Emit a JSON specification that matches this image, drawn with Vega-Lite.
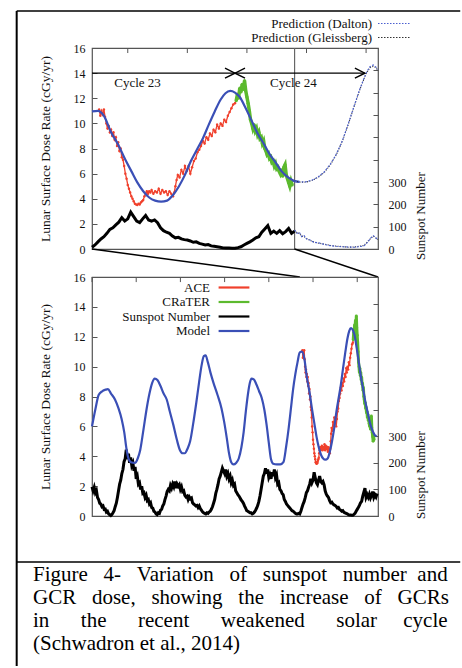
{
"$schema":"https://vega.github.io/schema/vega-lite/v6.json",
"padding":{"left":15,"top":9,"right":0,"bottom":0},
"background":"white",
"config":{
 "font":"Liberation Serif",
 "view":{"stroke":"#555","strokeWidth":1.2},
 "axis":{"grid":false,"domain":false,"labelFont":"Liberation Serif","labelFontSize":12,"labelColor":"#111","labelFlush":false,"labelOverlap":false,"tickColor":"#555","tickSize":-5,"labelPadding":12,"titleFont":"Liberation Serif","titleFontSize":13.5,"titleFontWeight":"normal","titleColor":"#111"},
 "legend":{"labelFont":"Liberation Serif","labelFontSize":13,"labelColor":"#111"}
},
"datasets":{
"model":[{"t":1950.0,"d":6.0},{"t":1950.8,"d":7.2},{"t":1951.5,"d":8.1},{"t":1952.3,"d":8.35},{"t":1953.0,"d":8.45},{"t":1953.6,"d":8.5},{"t":1954.3,"d":8.2},{"t":1955.2,"d":7.8},{"t":1956.0,"d":7.2},{"t":1956.7,"d":6.5},{"t":1957.3,"d":5.6},{"t":1957.8,"d":4.5},{"t":1958.3,"d":3.8},{"t":1958.8,"d":3.6},{"t":1959.7,"d":3.55},{"t":1960.4,"d":3.9},{"t":1960.9,"d":4.4},{"t":1961.6,"d":5.7},{"t":1962.4,"d":7.25},{"t":1963.0,"d":8.2},{"t":1963.6,"d":8.9},{"t":1964.2,"d":9.2},{"t":1964.8,"d":9.1},{"t":1965.5,"d":8.7},{"t":1966.2,"d":8.2},{"t":1966.9,"d":7.8},{"t":1967.6,"d":7.0},{"t":1968.4,"d":6.1},{"t":1969.2,"d":5.1},{"t":1969.9,"d":4.4},{"t":1970.5,"d":4.2},{"t":1971.0,"d":4.2},{"t":1971.6,"d":4.5},{"t":1972.2,"d":5.0},{"t":1972.9,"d":6.2},{"t":1973.6,"d":7.6},{"t":1974.2,"d":8.9},{"t":1974.8,"d":10.1},{"t":1975.3,"d":10.7},{"t":1975.7,"d":10.75},{"t":1976.2,"d":10.3},{"t":1976.8,"d":9.6},{"t":1977.5,"d":8.9},{"t":1978.4,"d":8.1},{"t":1979.3,"d":7.2},{"t":1979.9,"d":6.3},{"t":1980.5,"d":5.2},{"t":1981.0,"d":4.2},{"t":1981.5,"d":3.6},{"t":1982.0,"d":3.45},{"t":1982.6,"d":3.55},{"t":1983.2,"d":3.85},{"t":1983.8,"d":4.6},{"t":1984.3,"d":5.6},{"t":1984.8,"d":7.0},{"t":1985.3,"d":8.2},{"t":1985.7,"d":8.9},{"t":1986.1,"d":9.2},{"t":1986.6,"d":9.15},{"t":1987.2,"d":8.8},{"t":1987.8,"d":8.35},{"t":1988.4,"d":7.9},{"t":1989.0,"d":7.1},{"t":1989.5,"d":6.1},{"t":1990.0,"d":4.9},{"t":1990.5,"d":3.8},{"t":1991.0,"d":3.5},{"t":1991.8,"d":3.45},{"t":1992.6,"d":3.45},{"t":1993.3,"d":3.6},{"t":1993.9,"d":4.6},{"t":1994.5,"d":5.9},{"t":1995.0,"d":7.2},{"t":1995.5,"d":8.5},{"t":1996.0,"d":9.5},{"t":1996.5,"d":10.3},{"t":1997.0,"d":10.95},{"t":1997.5,"d":11.0},{"t":1998.0,"d":10.6},{"t":1998.6,"d":9.3},{"t":1999.2,"d":8.3},{"t":1999.8,"d":7.1},{"t":2000.3,"d":6.2},{"t":2000.8,"d":5.3},{"t":2001.3,"d":4.6},{"t":2001.8,"d":4.1},{"t":2002.3,"d":3.85},{"t":2002.8,"d":3.77},{"t":2003.3,"d":3.85},{"t":2003.8,"d":4.3},{"t":2004.3,"d":5.0},{"t":2004.8,"d":5.9},{"t":2005.3,"d":7.0},{"t":2005.8,"d":7.9},{"t":2006.3,"d":8.8},{"t":2006.8,"d":9.9},{"t":2007.3,"d":10.95},{"t":2007.8,"d":11.9},{"t":2008.2,"d":12.4},{"t":2008.6,"d":12.58},{"t":2009.0,"d":12.45},{"t":2009.4,"d":12.1},{"t":2009.9,"d":11.2},{"t":2010.4,"d":10.2},{"t":2010.9,"d":9.2},{"t":2011.4,"d":8.4},{"t":2011.9,"d":7.55},{"t":2012.4,"d":6.9},{"t":2012.9,"d":6.2},{"t":2013.4,"d":5.75},{"t":2013.8,"d":5.5},{"t":2014.0,"d":5.4},{"t":2014.4,"d":5.35}],
"ace":[{"t":1997.6,"d":11.1},{"t":1997.7,"d":10.6},{"t":1997.8,"d":11.0},{"t":1997.9,"d":10.7},{"t":1998.0,"d":11.1},{"t":1998.1,"d":10.5},{"t":1998.2,"d":10.0},{"t":1998.3,"d":9.6},{"t":1998.4,"d":9.8},{"t":1998.5,"d":9.3},{"t":1998.6,"d":9.5},{"t":1998.7,"d":9.0},{"t":1998.8,"d":9.3},{"t":1998.9,"d":8.7},{"t":1999.0,"d":8.9},{"t":1999.1,"d":8.2},{"t":1999.2,"d":8.5},{"t":1999.3,"d":7.8},{"t":1999.4,"d":8.0},{"t":1999.5,"d":7.3},{"t":1999.6,"d":7.1},{"t":1999.7,"d":6.6},{"t":1999.8,"d":6.0},{"t":1999.9,"d":5.6},{"t":2000.0,"d":5.1},{"t":2000.1,"d":4.8},{"t":2000.2,"d":4.5},{"t":2000.3,"d":4.2},{"t":2000.4,"d":4.0},{"t":2000.5,"d":3.8},{"t":2000.6,"d":3.6},{"t":2000.7,"d":3.55},{"t":2000.8,"d":3.5},{"t":2000.9,"d":3.6},{"t":2001.0,"d":3.55},{"t":2001.1,"d":3.7},{"t":2001.2,"d":3.8},{"t":2001.3,"d":3.9},{"t":2001.4,"d":4.2},{"t":2001.5,"d":4.4},{"t":2001.6,"d":4.6},{"t":2001.7,"d":4.4},{"t":2001.8,"d":4.6},{"t":2001.9,"d":4.5},{"t":2002.0,"d":4.7},{"t":2002.15,"d":4.4},{"t":2002.3,"d":4.6},{"t":2002.45,"d":4.5},{"t":2002.6,"d":4.8},{"t":2002.75,"d":4.4},{"t":2002.9,"d":4.7},{"t":2003.05,"d":4.5},{"t":2003.2,"d":4.6},{"t":2003.35,"d":4.3},{"t":2003.5,"d":4.6},{"t":2003.65,"d":4.4},{"t":2003.8,"d":4.2},{"t":2003.9,"d":4.5},{"t":2004.0,"d":5.0},{"t":2004.1,"d":5.5},{"t":2004.2,"d":5.9},{"t":2004.35,"d":5.7},{"t":2004.5,"d":6.3},{"t":2004.65,"d":6.0},{"t":2004.8,"d":6.6},{"t":2004.95,"d":6.2},{"t":2005.1,"d":6.6},{"t":2005.25,"d":6.0},{"t":2005.4,"d":6.5},{"t":2005.55,"d":7.0},{"t":2005.7,"d":7.2},{"t":2005.85,"d":7.7},{"t":2006.0,"d":7.9},{"t":2006.15,"d":8.2},{"t":2006.3,"d":8.6},{"t":2006.45,"d":8.4},{"t":2006.6,"d":8.9},{"t":2006.75,"d":8.7},{"t":2006.9,"d":9.2},{"t":2007.05,"d":9.0},{"t":2007.2,"d":9.5},{"t":2007.35,"d":9.3},{"t":2007.5,"d":9.9},{"t":2007.65,"d":9.6},{"t":2007.8,"d":10.0},{"t":2007.95,"d":9.8},{"t":2008.1,"d":10.3},{"t":2008.25,"d":10.1},{"t":2008.4,"d":10.6},{"t":2008.55,"d":10.9},{"t":2008.7,"d":11.2},{"t":2008.85,"d":11.5},{"t":2009.0,"d":11.6},{"t":2009.15,"d":12.0},{"t":2009.3,"d":12.4}],
"crater":[{"t":2009.1,"d":11.8},{"t":2009.2,"d":12.3},{"t":2009.3,"d":12.0},{"t":2009.4,"d":12.8},{"t":2009.5,"d":12.5},{"t":2009.6,"d":13.1},{"t":2009.7,"d":12.7},{"t":2009.8,"d":13.4},{"t":2009.9,"d":12.6},{"t":2010.0,"d":12.1},{"t":2010.1,"d":11.6},{"t":2010.2,"d":11.0},{"t":2010.3,"d":10.3},{"t":2010.4,"d":10.0},{"t":2010.5,"d":9.6},{"t":2010.6,"d":9.9},{"t":2010.7,"d":9.4},{"t":2010.8,"d":9.6},{"t":2010.9,"d":9.1},{"t":2011.0,"d":9.3},{"t":2011.1,"d":8.8},{"t":2011.2,"d":8.9},{"t":2011.3,"d":8.4},{"t":2011.4,"d":8.6},{"t":2011.5,"d":8.0},{"t":2011.6,"d":7.8},{"t":2011.7,"d":7.5},{"t":2011.8,"d":7.6},{"t":2011.9,"d":7.2},{"t":2012.0,"d":7.3},{"t":2012.1,"d":6.9},{"t":2012.2,"d":7.0},{"t":2012.3,"d":6.6},{"t":2012.4,"d":6.8},{"t":2012.5,"d":6.4},{"t":2012.6,"d":6.5},{"t":2012.7,"d":6.2},{"t":2012.8,"d":6.0},{"t":2012.9,"d":6.3},{"t":2013.0,"d":5.8},{"t":2013.1,"d":6.5},{"t":2013.2,"d":6.7},{"t":2013.3,"d":5.9},{"t":2013.4,"d":5.6},{"t":2013.5,"d":5.3},{"t":2013.6,"d":5.0},{"t":2013.7,"d":5.4},{"t":2013.8,"d":5.1}],
"ssn":[{"t":1950.0,"s":110},{"t":1950.25,"s":95},{"t":1950.5,"s":108},{"t":1950.75,"s":88},{"t":1951.0,"s":96},{"t":1951.25,"s":70},{"t":1951.5,"s":62},{"t":1951.75,"s":48},{"t":1952.0,"s":45},{"t":1952.25,"s":35},{"t":1952.5,"s":38},{"t":1952.75,"s":25},{"t":1953.0,"s":26},{"t":1953.25,"s":15},{"t":1953.5,"s":18},{"t":1953.75,"s":8},{"t":1954.0,"s":5},{"t":1954.25,"s":2},{"t":1954.5,"s":6},{"t":1954.75,"s":12},{"t":1955.0,"s":20},{"t":1955.25,"s":35},{"t":1955.5,"s":48},{"t":1955.75,"s":70},{"t":1956.0,"s":95},{"t":1956.25,"s":120},{"t":1956.5,"s":135},{"t":1956.75,"s":160},{"t":1957.0,"s":175},{"t":1957.25,"s":205},{"t":1957.5,"s":215},{"t":1957.75,"s":250},{"t":1958.0,"s":215},{"t":1958.25,"s":235},{"t":1958.5,"s":200},{"t":1958.75,"s":220},{"t":1959.0,"s":190},{"t":1959.25,"s":200},{"t":1959.5,"s":170},{"t":1959.75,"s":185},{"t":1960.0,"s":140},{"t":1960.25,"s":150},{"t":1960.5,"s":120},{"t":1960.75,"s":125},{"t":1961.0,"s":100},{"t":1961.25,"s":112},{"t":1961.5,"s":85},{"t":1961.75,"s":88},{"t":1962.0,"s":70},{"t":1962.25,"s":78},{"t":1962.5,"s":58},{"t":1962.75,"s":62},{"t":1963.0,"s":45},{"t":1963.25,"s":50},{"t":1963.5,"s":32},{"t":1963.75,"s":30},{"t":1964.0,"s":18},{"t":1964.25,"s":15},{"t":1964.5,"s":8},{"t":1964.75,"s":5},{"t":1965.0,"s":12},{"t":1965.25,"s":10},{"t":1965.5,"s":22},{"t":1965.75,"s":25},{"t":1966.0,"s":38},{"t":1966.25,"s":45},{"t":1966.5,"s":62},{"t":1966.75,"s":75},{"t":1967.0,"s":92},{"t":1967.25,"s":100},{"t":1967.5,"s":95},{"t":1967.75,"s":115},{"t":1968.0,"s":105},{"t":1968.25,"s":120},{"t":1968.5,"s":110},{"t":1968.75,"s":130},{"t":1969.0,"s":105},{"t":1969.25,"s":120},{"t":1969.5,"s":112},{"t":1969.75,"s":118},{"t":1970.0,"s":100},{"t":1970.25,"s":110},{"t":1970.5,"s":92},{"t":1970.75,"s":95},{"t":1971.0,"s":78},{"t":1971.25,"s":72},{"t":1971.5,"s":75},{"t":1971.75,"s":62},{"t":1972.0,"s":72},{"t":1972.25,"s":65},{"t":1972.5,"s":68},{"t":1972.75,"s":50},{"t":1973.0,"s":45},{"t":1973.25,"s":42},{"t":1973.5,"s":38},{"t":1973.75,"s":40},{"t":1974.0,"s":32},{"t":1974.25,"s":38},{"t":1974.5,"s":28},{"t":1974.75,"s":22},{"t":1975.0,"s":16},{"t":1975.25,"s":12},{"t":1975.5,"s":10},{"t":1975.75,"s":8},{"t":1976.0,"s":12},{"t":1976.25,"s":10},{"t":1976.5,"s":15},{"t":1976.75,"s":18},{"t":1977.0,"s":25},{"t":1977.25,"s":35},{"t":1977.5,"s":48},{"t":1977.75,"s":62},{"t":1978.0,"s":85},{"t":1978.25,"s":100},{"t":1978.5,"s":118},{"t":1978.75,"s":140},{"t":1979.0,"s":150},{"t":1979.25,"s":165},{"t":1979.5,"s":180},{"t":1979.75,"s":170},{"t":1980.0,"s":160},{"t":1980.25,"s":175},{"t":1980.5,"s":150},{"t":1980.75,"s":160},{"t":1981.0,"s":140},{"t":1981.25,"s":150},{"t":1981.5,"s":125},{"t":1981.75,"s":135},{"t":1982.0,"s":115},{"t":1982.25,"s":120},{"t":1982.5,"s":95},{"t":1982.75,"s":88},{"t":1983.0,"s":80},{"t":1983.25,"s":75},{"t":1983.5,"s":68},{"t":1983.75,"s":60},{"t":1984.0,"s":55},{"t":1984.25,"s":48},{"t":1984.5,"s":38},{"t":1984.75,"s":30},{"t":1985.0,"s":20},{"t":1985.25,"s":18},{"t":1985.5,"s":15},{"t":1985.75,"s":12},{"t":1986.0,"s":12},{"t":1986.25,"s":8},{"t":1986.5,"s":10},{"t":1986.75,"s":15},{"t":1987.0,"s":22},{"t":1987.25,"s":30},{"t":1987.5,"s":40},{"t":1987.75,"s":55},{"t":1988.0,"s":75},{"t":1988.25,"s":100},{"t":1988.5,"s":125},{"t":1988.75,"s":150},{"t":1989.0,"s":160},{"t":1989.25,"s":180},{"t":1989.5,"s":160},{"t":1989.75,"s":175},{"t":1990.0,"s":145},{"t":1990.25,"s":155},{"t":1990.5,"s":140},{"t":1990.75,"s":165},{"t":1991.0,"s":150},{"t":1991.25,"s":175},{"t":1991.5,"s":145},{"t":1991.75,"s":155},{"t":1992.0,"s":120},{"t":1992.25,"s":125},{"t":1992.5,"s":100},{"t":1992.75,"s":95},{"t":1993.0,"s":85},{"t":1993.25,"s":80},{"t":1993.5,"s":62},{"t":1993.75,"s":55},{"t":1994.0,"s":45},{"t":1994.25,"s":40},{"t":1994.5,"s":35},{"t":1994.75,"s":30},{"t":1995.0,"s":25},{"t":1995.25,"s":20},{"t":1995.5,"s":18},{"t":1995.75,"s":14},{"t":1996.0,"s":10},{"t":1996.25,"s":8},{"t":1996.5,"s":8},{"t":1996.75,"s":10},{"t":1997.0,"s":8},{"t":1997.25,"s":18},{"t":1997.5,"s":32},{"t":1997.75,"s":45},{"t":1998.0,"s":55},{"t":1998.25,"s":70},{"t":1998.5,"s":88},{"t":1998.75,"s":95},{"t":1999.0,"s":108},{"t":1999.25,"s":120},{"t":1999.5,"s":140},{"t":1999.75,"s":125},{"t":2000.0,"s":135},{"t":2000.25,"s":165},{"t":2000.5,"s":145},{"t":2000.75,"s":125},{"t":2001.0,"s":118},{"t":2001.25,"s":135},{"t":2001.5,"s":150},{"t":2001.75,"s":130},{"t":2002.0,"s":125},{"t":2002.25,"s":130},{"t":2002.5,"s":118},{"t":2002.75,"s":95},{"t":2003.0,"s":82},{"t":2003.25,"s":75},{"t":2003.5,"s":70},{"t":2003.75,"s":58},{"t":2004.0,"s":50},{"t":2004.25,"s":52},{"t":2004.5,"s":45},{"t":2004.75,"s":42},{"t":2005.0,"s":40},{"t":2005.25,"s":36},{"t":2005.5,"s":30},{"t":2005.75,"s":32},{"t":2006.0,"s":25},{"t":2006.25,"s":22},{"t":2006.5,"s":18},{"t":2006.75,"s":20},{"t":2007.0,"s":14},{"t":2007.25,"s":12},{"t":2007.5,"s":10},{"t":2007.75,"s":8},{"t":2008.0,"s":5},{"t":2008.25,"s":4},{"t":2008.5,"s":4},{"t":2008.75,"s":3},{"t":2009.0,"s":3},{"t":2009.25,"s":6},{"t":2009.5,"s":10},{"t":2009.75,"s":18},{"t":2010.0,"s":25},{"t":2010.25,"s":32},{"t":2010.5,"s":40},{"t":2010.75,"s":50},{"t":2011.0,"s":55},{"t":2011.25,"s":75},{"t":2011.5,"s":90},{"t":2011.75,"s":105},{"t":2012.0,"s":70},{"t":2012.25,"s":80},{"t":2012.5,"s":70},{"t":2012.75,"s":82},{"t":2013.0,"s":68},{"t":2013.25,"s":78},{"t":2013.5,"s":92},{"t":2013.75,"s":70},{"t":2014.0,"s":80},{"t":2014.25,"s":72},{"t":2014.5,"s":85}],
"predD":[{"t":2014.0,"d":5.4},{"t":2014.5,"d":5.33},{"t":2015.0,"d":5.35},{"t":2015.5,"d":5.5},{"t":2016.0,"d":5.75},{"t":2016.5,"d":6.15},{"t":2017.0,"d":6.75},{"t":2017.5,"d":7.55},{"t":2018.0,"d":8.6},{"t":2018.5,"d":9.95},{"t":2019.0,"d":11.4},{"t":2019.5,"d":12.8},{"t":2020.0,"d":14.0},{"t":2020.3,"d":14.5},{"t":2020.6,"d":14.65},{"t":2020.8,"d":14.5},{"t":2021.0,"d":14.3}],
"predG":[{"t":2014.0,"d":5.4},{"t":2014.5,"d":5.32},{"t":2015.0,"d":5.33},{"t":2015.5,"d":5.47},{"t":2016.0,"d":5.72},{"t":2016.5,"d":6.1},{"t":2017.0,"d":6.7},{"t":2017.5,"d":7.5},{"t":2018.0,"d":8.55},{"t":2018.5,"d":9.9},{"t":2019.0,"d":11.35},{"t":2019.5,"d":12.75},{"t":2020.0,"d":13.95},{"t":2020.3,"d":14.4},{"t":2020.6,"d":14.55},{"t":2020.8,"d":14.45},{"t":2021.0,"d":14.2}],
"predSD":[{"t":2014.0,"s":85},{"t":2014.2,"s":70},{"t":2014.4,"s":75},{"t":2014.6,"s":55},{"t":2014.8,"s":60},{"t":2015.0,"s":45},{"t":2015.3,"s":40},{"t":2015.6,"s":30},{"t":2016.0,"s":28},{"t":2016.5,"s":20},{"t":2017.0,"s":15},{"t":2017.5,"s":12},{"t":2018.0,"s":10},{"t":2018.5,"s":9},{"t":2019.0,"s":8},{"t":2019.4,"s":10},{"t":2019.8,"s":14},{"t":2020.0,"s":22},{"t":2020.2,"s":35},{"t":2020.4,"s":50},{"t":2020.6,"s":60},{"t":2020.8,"s":52},{"t":2021.0,"s":40}],
"predSG":[{"t":2014.0,"s":85},{"t":2014.2,"s":72},{"t":2014.4,"s":70},{"t":2014.6,"s":58},{"t":2014.8,"s":55},{"t":2015.0,"s":48},{"t":2015.3,"s":38},{"t":2015.6,"s":32},{"t":2016.0,"s":26},{"t":2016.5,"s":22},{"t":2017.0,"s":16},{"t":2017.5,"s":13},{"t":2018.0,"s":11},{"t":2018.5,"s":8},{"t":2019.0,"s":9},{"t":2019.4,"s":12},{"t":2019.8,"s":16},{"t":2020.0,"s":25},{"t":2020.2,"s":38},{"t":2020.4,"s":48},{"t":2020.6,"s":58},{"t":2020.8,"s":50},{"t":2021.0,"s":42}]
},
"vconcat":[
{
 "width":286,"height":201,
 "resolve":{"scale":{"y":"independent"}},
 "layer":[
  {"data":{"values":[{"a":1990.68,"b":18.95,"b2":-33.19}]},"mark":{"type":"rule","color":"black","strokeWidth":2},
   "encoding":{"x":{"field":"a","type":"quantitative","scale":{"domain":[1997,2021]},"axis":null},
    "y":{"field":"b","type":"quantitative","scale":{"domain":[0,16]},"axis":null},"y2":{"field":"b2"}}},
  {"data":{"values":[{"a":1990.68,"a2":2027.9,"b":18.95},{"a":1990.68,"a2":2027.9,"b":-24.92}]},"mark":{"type":"rule","color":"black","strokeWidth":1.5},
   "encoding":{"x":{"field":"a","type":"quantitative","scale":{"domain":[1997,2021]},"axis":null},"x2":{"field":"a2"},
    "y":{"field":"b","type":"quantitative","scale":{"domain":[0,16]},"axis":null}}},
  {"data":{"values":[{"a":2000,"b":16,"b2":15.6},{"a":2005,"b":16,"b2":15.6},{"a":2010,"b":16,"b2":15.6},{"a":2015,"b":16,"b2":15.6},{"a":2020,"b":16,"b2":15.6}]},"mark":{"type":"rule","color":"#555","strokeWidth":1},
   "encoding":{"x":{"field":"a","type":"quantitative","scale":{"domain":[1997,2021]},"axis":null},
    "y":{"field":"b","type":"quantitative","scale":{"domain":[0,16]},"axis":null},"y2":{"field":"b2"}}},
  {"data":{"values":[{"a":2014,"b":0,"b2":16}]},"mark":{"type":"rule","color":"#666","strokeWidth":1.2},
   "encoding":{"x":{"field":"a","type":"quantitative","scale":{"domain":[1997,2021]},"axis":null},
    "y":{"field":"b","type":"quantitative","scale":{"domain":[0,16]},"axis":null},"y2":{"field":"b2"}}},
  {"data":{"values":[{"a":1997,"b":0,"a2":2014.44,"b2":-2.23},{"a":2014,"b":0,"a2":2021,"b2":-2.23}]},
   "mark":{"type":"rule","color":"black","strokeWidth":1.5},
   "encoding":{"x":{"field":"a","type":"quantitative","scale":{"domain":[1997,2021]},"axis":null},"x2":{"field":"a2"},
    "y":{"field":"b","type":"quantitative","scale":{"domain":[0,16]},"axis":null},"y2":{"field":"b2"}}},
  {"data":{"name":"ace"},"mark":{"type":"line","color":"#f0402c","strokeWidth":1.3,"point":{"filled":true,"size":6,"color":"#f0402c"}},
   "encoding":{"x":{"field":"t","type":"quantitative","scale":{"domain":[1997,2021]},"axis":null},
    "y":{"field":"d","type":"quantitative","scale":{"domain":[0,16]},"axis":null}}},
  {"data":{"name":"crater"},"mark":{"type":"line","color":"#5cba2e","strokeWidth":3.5,"point":{"filled":true,"size":10,"color":"#5cba2e"}},
   "encoding":{"x":{"field":"t","type":"quantitative","scale":{"domain":[1997,2021]},"axis":null},
    "y":{"field":"d","type":"quantitative","scale":{"domain":[0,16]},"axis":null}}},
  {"data":{"name":"ssn"},"transform":[{"filter":"datum.t >= 1997 && datum.t <= 2014"}],
   "mark":{"type":"line","color":"black","strokeWidth":3},
   "encoding":{"x":{"field":"t","type":"quantitative","scale":{"domain":[1997,2021]},"axis":null},
    "y":{"field":"s","type":"quantitative","scale":{"domain":[0,900]},
     "axis":{"orient":"right","values":[0,100,200,300,400,500,600,700,800,900],"labelExpr":"datum.value <= 300 ? datum.label : ''","labelPadding":15,"title":"Sunspot Number","titleFontSize":13,"titleX":42,"titleY":167.5,"titleAngle":270,"titleAlign":"center","titleBaseline":"middle"}}}},
  {"data":{"name":"predSG"},"mark":{"type":"line","color":"#333","strokeWidth":1.1,"strokeDash":[1,1.5]},
   "encoding":{"x":{"field":"t","type":"quantitative","scale":{"domain":[1997,2021]},"axis":null},
    "y":{"field":"s","type":"quantitative","scale":{"domain":[0,900]},"axis":null}}},
  {"data":{"name":"predSD"},"mark":{"type":"line","color":"#4b5fd0","strokeWidth":1.1,"strokeDash":[2,1.5]},
   "encoding":{"x":{"field":"t","type":"quantitative","scale":{"domain":[1997,2021]},"axis":null},
    "y":{"field":"s","type":"quantitative","scale":{"domain":[0,900]},"axis":null}}},
  {"data":{"name":"model"},"transform":[{"filter":"datum.t >= 1997"}],
   "mark":{"type":"line","color":"#3a4fb6","strokeWidth":2.2,"interpolate":"monotone"},
   "encoding":{"x":{"field":"t","type":"quantitative","scale":{"domain":[1997,2021]},"axis":{"orient":"bottom","values":[2000,2005,2010,2015,2020],"format":"d","title":null}},
    "y":{"field":"d","type":"quantitative","scale":{"domain":[0,16]},
     "axis":{"orient":"left","values":[0,2,4,6,8,10,12,14,16],"title":"Lunar Surface Dose Rate (cGy/yr)","titleX":-47,"titleY":100.5,"titleAngle":270,"titleAlign":"center","titleBaseline":"middle"}}}},
  {"data":{"name":"predG"},"mark":{"type":"line","color":"#333","strokeWidth":1.1,"strokeDash":[1,1.5]},
   "encoding":{"x":{"field":"t","type":"quantitative","scale":{"domain":[1997,2021]},"axis":null},
    "y":{"field":"d","type":"quantitative","scale":{"domain":[0,16]},"axis":null}}},
  {"data":{"name":"predD"},"mark":{"type":"line","color":"#4b5fd0","strokeWidth":1.1,"strokeDash":[2,1.5]},
   "encoding":{"x":{"field":"t","type":"quantitative","scale":{"domain":[1997,2021]},"axis":null},
    "y":{"field":"d","type":"quantitative","scale":{"domain":[0,16]},"axis":null}}},
  {"data":{"values":[{"a":1997,"a2":2009.0,"b":14},{"a":2009.0,"a2":2019.9,"b":14}]},
   "mark":{"type":"rule","color":"black","strokeWidth":1.3},
   "encoding":{"x":{"field":"a","type":"quantitative","scale":{"domain":[1997,2021]},"axis":null},"x2":{"field":"a2"},
    "y":{"field":"b","type":"quantitative","scale":{"domain":[0,16]},"axis":null}}},
  {"data":{"values":[{"t":2009.0,"d":14,"dir":"r"},{"t":2019.9,"d":14,"dir":"r"},{"t":2009.0,"d":14,"dir":"l"}]},
   "mark":{"type":"point","filled":false,"color":"black","strokeWidth":1.4,"size":400,"opacity":1},
   "encoding":{"x":{"field":"t","type":"quantitative","scale":{"domain":[1997,2021]},"axis":null},
    "y":{"field":"d","type":"quantitative","scale":{"domain":[0,16]},"axis":null},
    "shape":{"field":"dir","type":"nominal","scale":{"domain":["r","l"],"range":["M-1,-0.5L0,0L-1,0.5","M1,-0.5L0,0L1,0.5"]},"legend":null}}},
  {"data":{"values":[{"t":2000.82,"d":13.24,"label":"Cycle 23"},{"t":2013.9,"d":13.24,"label":"Cycle 24"}]},
   "mark":{"type":"text","font":"Liberation Serif","fontSize":13,"color":"#111","align":"center","baseline":"middle"},
   "encoding":{"x":{"field":"t","type":"quantitative","scale":{"domain":[1997,2021]},"axis":null},
    "y":{"field":"d","type":"quantitative","scale":{"domain":[0,16]},"axis":null},"text":{"field":"label"}}},
  {"data":{"values":[{"k":"Prediction (Dalton)","t":2000,"d":5}]},"transform":[{"filter":"datum.t < 0"}],
   "mark":{"type":"line"},
   "encoding":{"x":{"field":"t","type":"quantitative","scale":{"domain":[1997,2021]},"axis":null},
    "y":{"field":"d","type":"quantitative","scale":{"domain":[0,16]},"axis":null},
    "color":{"field":"k","type":"nominal","scale":{"domain":["Prediction (Dalton)","Prediction (Gleissberg)"],"range":["#4b5fd0","#333"]},
    "legend":{"orient":"none","legendX":296,"legendY":-31,"title":null,"symbolType":"M-3,0H3","symbolSize":121,"symbolStrokeWidth":1.2,"symbolDash":[1.5,1.5],"labelAlign":"right","labelOffset":-29,"rowPadding":0,"padding":0}}}}
 ]
},
{
 "width":286,"height":239,
 "resolve":{"scale":{"y":"independent"}},
 "layer":[
  {"data":{"values":[{"a":1950,"b":16,"b2":15.66},{"a":1960,"b":16,"b2":15.66},{"a":1970,"b":16,"b2":15.66},{"a":1980,"b":16,"b2":15.66},{"a":1990,"b":16,"b2":15.66},{"a":2000,"b":16,"b2":15.66},{"a":2010,"b":16,"b2":15.66}]},"mark":{"type":"rule","color":"#555","strokeWidth":1},
   "encoding":{"x":{"field":"a","type":"quantitative","scale":{"domain":[1950,2014.7]},"axis":null},
    "y":{"field":"b","type":"quantitative","scale":{"domain":[0,16]},"axis":null},"y2":{"field":"b2"}}},
  {"data":{"name":"ace"},"mark":{"type":"line","color":"#f0402c","strokeWidth":1.3,"point":{"filled":true,"size":6,"color":"#f0402c"}},
   "encoding":{"x":{"field":"t","type":"quantitative","scale":{"domain":[1950,2014.7]},"axis":null},
    "y":{"field":"d","type":"quantitative","scale":{"domain":[0,16]},"axis":null}}},
  {"data":{"name":"crater"},"mark":{"type":"line","color":"#5cba2e","strokeWidth":3,"point":{"filled":true,"size":8,"color":"#5cba2e"}},
   "encoding":{"x":{"field":"t","type":"quantitative","scale":{"domain":[1950,2014.7]},"axis":null},
    "y":{"field":"d","type":"quantitative","scale":{"domain":[0,16]},"axis":null}}},
  {"data":{"name":"ssn"},"mark":{"type":"line","color":"black","strokeWidth":3},
   "encoding":{"x":{"field":"t","type":"quantitative","scale":{"domain":[1950,2014.7]},"axis":null},
    "y":{"field":"s","type":"quantitative","scale":{"domain":[0,900]},
     "axis":{"orient":"right","values":[0,100,200,300,400,500,600,700,800,900],"labelExpr":"datum.value <= 300 ? datum.label : ''","labelPadding":15,"title":"Sunspot Number","titleFontSize":13,"titleX":42,"titleY":197.5,"titleAngle":270,"titleAlign":"center","titleBaseline":"middle"}}}},
  {"data":{"name":"model"},"mark":{"type":"line","color":"#3a4fb6","strokeWidth":2.2,"interpolate":"monotone"},
   "encoding":{"x":{"field":"t","type":"quantitative","scale":{"domain":[1950,2014.7]},"axis":{"orient":"bottom","values":[1950,1960,1970,1980,1990,2000,2010],"format":"d","title":"Year","titleX":143,"titleY":33,"titleAlign":"center","titleBaseline":"middle"}},
    "y":{"field":"d","type":"quantitative","scale":{"domain":[0,16]},
     "axis":{"orient":"left","values":[0,2,4,6,8,10,12,14,16],"title":"Lunar Surface Dose Rate (cGy/yr)","titleX":-47,"titleY":119.5,"titleAngle":270,"titleAlign":"center","titleBaseline":"middle"}}}},
  {"data":{"values":[{"k":"ACE","t":2000,"d":5}]},"transform":[{"filter":"datum.t < 0"}],
   "mark":{"type":"line"},
   "encoding":{"x":{"field":"t","type":"quantitative","scale":{"domain":[1950,2014.7]},"axis":null},
    "y":{"field":"d","type":"quantitative","scale":{"domain":[0,16]},"axis":null},
    "color":{"field":"k","type":"nominal","scale":{"domain":["ACE","CRaTER","Sunspot Number","Model"],"range":["#f0402c","#5cba2e","black","#3a4fb6"]},
    "legend":{"orient":"none","legendX":135,"legendY":3.5,"title":null,"symbolType":"M-2.8,0H2.8","symbolSize":121,"symbolStrokeWidth":2.2,"labelAlign":"right","labelOffset":-31,"rowPadding":0.5,"padding":0}}}}
 ]
},
{
 "width":436,"height":120,"view":{"stroke":null},
 "data":{"values":[
  {"line":1,"text":"Figure\u00a0\u00a0\u00a04-\u00a0\u00a0\u00a0Variation\u00a0\u00a0\u00a0of\u00a0\u00a0\u00a0sunspot\u00a0\u00a0\u00a0number\u00a0\u00a0and"},
  {"line":2,"text":"GCR\u00a0\u00a0\u00a0dose,\u00a0\u00a0\u00a0showing\u00a0\u00a0\u00a0the\u00a0\u00a0\u00a0increase\u00a0\u00a0\u00a0of\u00a0\u00a0\u00a0GCRs"},
  {"line":3,"text":"in\u00a0\u00a0\u00a0\u00a0\u00a0\u00a0the\u00a0\u00a0\u00a0\u00a0\u00a0\u00a0recent\u00a0\u00a0\u00a0\u00a0\u00a0\u00a0weakened\u00a0\u00a0\u00a0\u00a0\u00a0\u00a0solar\u00a0\u00a0\u00a0\u00a0\u00a0cycle"},
  {"line":4,"text":"(Schwadron et al., 2014)"}
 ]},
 "mark":{"type":"text","align":"left","baseline":"alphabetic","font":"Liberation Serif","fontSize":21,"color":"black"},
 "encoding":{"x":{"value":16},"y":{"field":"line","type":"quantitative","scale":{"domain":[1,4],"range":[37,106]},"axis":null},"text":{"field":"text"}}
}
],
"spacing":28,"bounds":"flush","center":true,
"resolve":{"scale":{"color":"independent"},"legend":{"color":"independent"}}
}
